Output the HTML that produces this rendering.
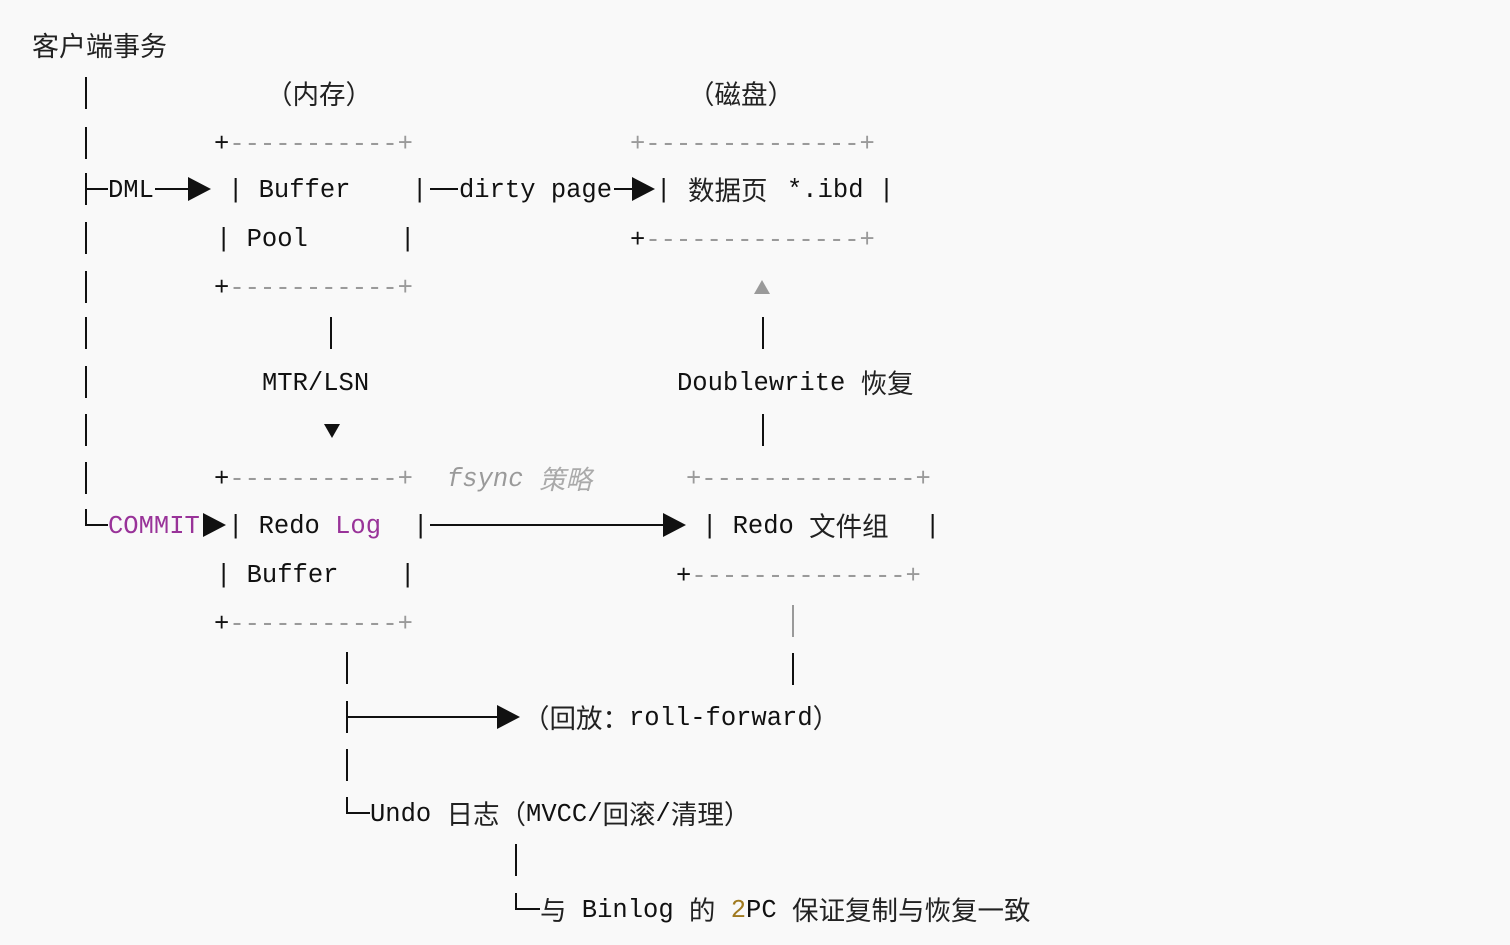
<!DOCTYPE html>
<html><head><meta charset="utf-8"><style>
body{margin:0;background:#f9f9f9;}
#c{position:relative;width:1510px;height:945px;overflow:hidden;background:#f9f9f9;}
.t{position:absolute;font-family:"Liberation Mono","Noto Sans CJK SC",monospace;font-size:25.5px;line-height:30px;white-space:pre;color:#111;margin-top:2px;}
.cj{font-family:"Noto Sans CJK SC","Liberation Sans",sans-serif;font-size:26.5px;color:#222;line-height:30px;}
span.cj{vertical-align:top;position:relative;top:-2px;}
.g{color:#9a9a9a;}
.p{color:#993399;}
.v{position:absolute;width:2px;background:#111;}
.h{position:absolute;height:2px;background:#111;}
.tr{position:absolute;width:0;height:0;border-top:12px solid transparent;border-bottom:12px solid transparent;border-left:23px solid #111;}
</style></head><body><div id="c">
<div class="t cj" style="left:32px;top:28px;font-size:27px">客户端事务</div>
<div class="t cj" style="left:266px;top:76px">（内存）</div>
<div class="t cj" style="left:688px;top:76px">（磁盘）</div>

<div class="v" style="left:85px;top:77px;height:32px"></div>
<div class="v" style="left:85px;top:127px;height:32px"></div>
<div class="v" style="left:85px;top:173px;height:32px"></div>
<div class="v" style="left:85px;top:222px;height:32px"></div>
<div class="v" style="left:85px;top:271px;height:32px"></div>
<div class="v" style="left:85px;top:317px;height:32px"></div>
<div class="v" style="left:85px;top:366px;height:32px"></div>
<div class="v" style="left:85px;top:414px;height:32px"></div>
<div class="v" style="left:85px;top:462px;height:32px"></div>
<div class="v" style="left:85px;top:509px;height:17px"></div>

<div class="h" style="left:86px;top:188px;width:22px"></div>
<div class="t" style="left:108px;top:174px">DML</div>
<div class="h" style="left:155px;top:188px;width:34px"></div>
<div class="tr" style="left:188px;top:177px"></div>
<div class="t" style="left:228px;top:174px">| Buffer</div>
<div class="t" style="left:412px;top:174px">|</div>
<div class="h" style="left:430px;top:188px;width:28px"></div>
<div class="t" style="left:459px;top:174px">dirty page</div>
<div class="h" style="left:614px;top:188px;width:18px"></div>
<div class="tr" style="left:632px;top:177px"></div>
<div class="t" style="left:656px;top:174px">|</div>
<div class="t cj" style="left:688px;top:172px">数据页</div>
<div class="t" style="left:787px;top:174px">*.ibd |</div>

<div class="t" style="left:214px;top:128px">+<span class="g">-----------+</span></div>
<div class="t g" style="left:630px;top:128px">+--------------+</div>
<div class="t" style="left:216px;top:223px">| Pool</div>
<div class="t" style="left:400px;top:223px">|</div>
<div class="t" style="left:630px;top:224px">+<span class="g">--------------+</span></div>
<div class="t" style="left:214px;top:272px">+<span class="g">-----------+</span></div>
<div style="position:absolute;left:754px;top:280px;width:0;height:0;border-left:8px solid transparent;border-right:8px solid transparent;border-bottom:14px solid #9a9a9a"></div>

<div class="v" style="left:330px;top:317px;height:32px"></div>
<div class="v" style="left:762px;top:317px;height:32px"></div>
<div class="t" style="left:262px;top:367px">MTR/LSN</div>
<div class="t" style="left:677px;top:367px">Doublewrite <span class="cj">恢复</span></div>
<div style="position:absolute;left:324px;top:424px;width:0;height:0;border-left:8px solid transparent;border-right:8px solid transparent;border-top:14px solid #111"></div>
<div class="v" style="left:762px;top:414px;height:32px"></div>

<div class="t" style="left:214px;top:463px">+<span class="g">-----------+</span></div>
<div class="t g" style="left:447px;top:463px;font-style:italic">fsync <span class="cj" style="color:#aaa;font-style:italic">策略</span></div>
<div class="t g" style="left:686px;top:463px">+--------------+</div>

<div class="h" style="left:86px;top:524px;width:22px"></div>
<div class="t p" style="left:108px;top:510px">COMMIT</div>
<div class="tr" style="left:203px;top:513px"></div>
<div class="t" style="left:228px;top:510px">| Redo <span class="p">Log</span></div>
<div class="t" style="left:413px;top:510px">|</div>
<div class="h" style="left:430px;top:524px;width:233px"></div>
<div class="tr" style="left:663px;top:513px"></div>
<div class="t" style="left:702px;top:510px">| Redo <span class="cj">文件组</span></div>
<div class="t" style="left:925px;top:510px">|</div>

<div class="t" style="left:216px;top:559px">| Buffer</div>
<div class="t" style="left:400px;top:559px">|</div>
<div class="t" style="left:676px;top:560px">+<span class="g">--------------+</span></div>
<div class="t" style="left:214px;top:608px">+<span class="g">-----------+</span></div>
<div class="v" style="left:792px;top:605px;height:32px;background:#9a9a9a"></div>
<div class="v" style="left:792px;top:653px;height:32px"></div>

<div class="v" style="left:346px;top:652px;height:32px"></div>
<div class="v" style="left:346px;top:701px;height:32px"></div>
<div class="h" style="left:347px;top:716px;width:151px"></div>
<div class="tr" style="left:497px;top:705px"></div>
<div class="t" style="left:523px;top:702px"><span class="cj">（回放：</span>roll-forward<span class="cj">）</span></div>
<div class="v" style="left:346px;top:749px;height:32px"></div>
<div class="v" style="left:346px;top:797px;height:17px"></div>
<div class="h" style="left:347px;top:812px;width:23px"></div>
<div class="t" style="left:370px;top:798px">Undo <span class="cj">日志（</span>MVCC/<span class="cj">回滚</span>/<span class="cj">清理）</span></div>
<div class="v" style="left:515px;top:844px;height:32px"></div>
<div class="v" style="left:515px;top:893px;height:17px"></div>
<div class="h" style="left:516px;top:908px;width:24px"></div>
<div class="t" style="left:540px;top:894px"><span class="cj">与</span> Binlog <span class="cj">的</span> <span style="color:#a07a20">2</span>PC <span class="cj">保证复制与恢复一致</span></div>
</div></body></html>
